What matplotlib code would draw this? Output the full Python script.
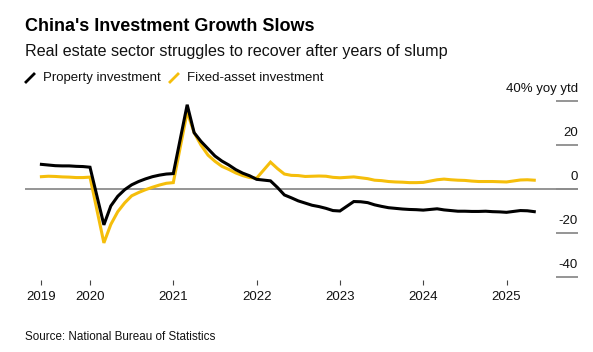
import matplotlib
matplotlib.use("Agg")
import matplotlib.pyplot as plt
from matplotlib.lines import Line2D
import matplotlib.transforms as mtransforms

plt.rcParams['font.family'] = ['Liberation Sans', 'DejaVu Sans']

# ---- data (year-to-date, % yoy; Jan folded into Feb) ----
months = (["2019-%02d" % m for m in range(5, 13)] +
          ["%d-%02d" % (y, m) for y in range(2020, 2025) for m in range(2, 13)] +
          ["2025-02", "2025-03", "2025-04"])

property_inv = [11.2, 10.9, 10.6, 10.5, 10.5, 10.3, 10.2, 9.9,
                -16.3, -7.7, -3.3, -0.3, 1.9, 3.4, 4.6, 5.6, 6.3, 6.8, 7.0,
                38.3, 25.6, 21.6, 18.3, 15.0, 12.7, 10.9, 8.8, 7.2, 6.0, 4.4,
                3.7, 0.7, -2.7, -4.0, -5.4, -6.4, -7.4, -8.0, -8.8, -9.8, -10.0,
                -5.7, -5.8, -6.2, -7.2, -7.9, -8.5, -8.8, -9.1, -9.3, -9.4, -9.6,
                -9.0, -9.5, -9.8, -10.1, -10.1, -10.2, -10.2, -10.1, -10.3, -10.4, -10.6,
                -9.8, -9.9, -10.3]

fixed_asset_inv = [5.6, 5.8, 5.7, 5.5, 5.4, 5.2, 5.2, 5.4,
                   -24.5, -16.1, -10.3, -6.3, -3.1, -1.6, -0.3, 0.8, 1.8, 2.6, 2.9,
                   35.0, 25.6, 19.9, 15.4, 12.6, 10.3, 8.9, 7.3, 6.1, 5.2, 4.9,
                   12.2, 9.3, 6.8, 6.2, 6.1, 5.7, 5.8, 5.9, 5.8, 5.3, 5.1,
                   5.5, 5.1, 4.7, 4.0, 3.8, 3.4, 3.2, 3.1, 2.9, 2.9, 3.0,
                   4.2, 4.5, 4.2, 4.0, 3.9, 3.6, 3.4, 3.4, 3.4, 3.3, 3.2,
                   4.1, 4.2, 4.0]

year_ticks = [2019 + 5 / 12, 2020, 2021, 2022, 2023, 2024, 2025]
year_labels = ["2019", "2020", "2021", "2022", "2023", "2024", "2025"]
y_ticks = [40, 20, 0, -20, -40]
y_labels = ["40% yoy ytd", "20", "0", "-20", "-40"]

# month-end positions in fractional years
x = [int(s[:4]) + int(s[5:]) / 12 for s in months]

W, H = 593, 352
fig = plt.figure(figsize=(W / 100, H / 100), dpi=100)
fig.patch.set_facecolor("white")

# axes in pixel coords
left_px, right_px, top_px, bot_px = 25, 578, 95, 285
ax = fig.add_axes([left_px / W, 1 - bot_px / H, (right_px - left_px) / W, (bot_px - top_px) / H])
ax.set_facecolor("none")

px_per_year = 83.3
zero_px, px_per_unit = 189, 2.2
ax.set_xlim(2020 + (left_px - 90) / px_per_year, 2020 + (right_px - 90) / px_per_year)
ax.set_ylim((zero_px - bot_px) / px_per_unit, (zero_px - top_px) / px_per_unit)

for s in ax.spines.values():
    s.set_visible(False)

BLACK = "#000000"
YELLOW = "#F5BE0B"
GRAY = "#8C8C8C"

ax.axhline(0, color=GRAY, lw=1.3, zorder=1)
ax.plot(x, fixed_asset_inv, color=YELLOW, lw=2.2, zorder=2, solid_joinstyle="miter")
ax.plot(x, property_inv, color=BLACK, lw=2.2, zorder=3, solid_joinstyle="miter")

# right-side y ticks: short lines with labels above
trans = mtransforms.blended_transform_factory(ax.transAxes, ax.transData)
for v, lab in zip(y_ticks, y_labels):
    ax.plot([(556 - left_px) / (right_px - left_px), 1.0], [v, v], color=GRAY, lw=1.3,
            transform=trans, zorder=1, solid_capstyle="butt")
    ax.annotate(lab, xy=(1.0, v), xycoords=trans, xytext=(0, 4.5), textcoords="offset points",
                ha="right", va="bottom", fontsize=9.5, color="#111111")

ax.set_yticks([])
ax.set_xticks(year_ticks)
ax.set_xticklabels(year_labels)
ax.tick_params(axis="x", direction="in", length=3.5, width=0.8, color="#444444",
               pad=4, labelsize=9.5, labelcolor="#111111")

# titles
fig.text(25 / W, 1 - 31 / H, "China's Investment Growth Slows", fontsize=13.0,
         fontweight="bold", ha="left", va="baseline", color="#000000")
fig.text(25 / W, 1 - 56 / H, "Real estate sector struggles to recover after years of slump",
         fontsize=11.6, ha="left", va="baseline", color="#111111")

# legend
fig.add_artist(Line2D([26 / W, 34 / W], [1 - 82 / H, 1 - 74 / H], color=BLACK, lw=2))
fig.text(43 / W, 1 - 81 / H, "Property investment", fontsize=9.5, ha="left", va="baseline", color="#111111")
fig.add_artist(Line2D([170 / W, 178 / W], [1 - 82 / H, 1 - 74 / H], color=YELLOW, lw=2))
fig.text(187 / W, 1 - 81 / H, "Fixed-asset investment", fontsize=9.5, ha="left", va="baseline", color="#111111")

# source
fig.text(25 / W, 1 - 340 / H, "Source: National Bureau of Statistics", fontsize=8.4,
         ha="left", va="baseline", color="#111111")

fig.savefig("out.png", dpi=100, facecolor="white")
